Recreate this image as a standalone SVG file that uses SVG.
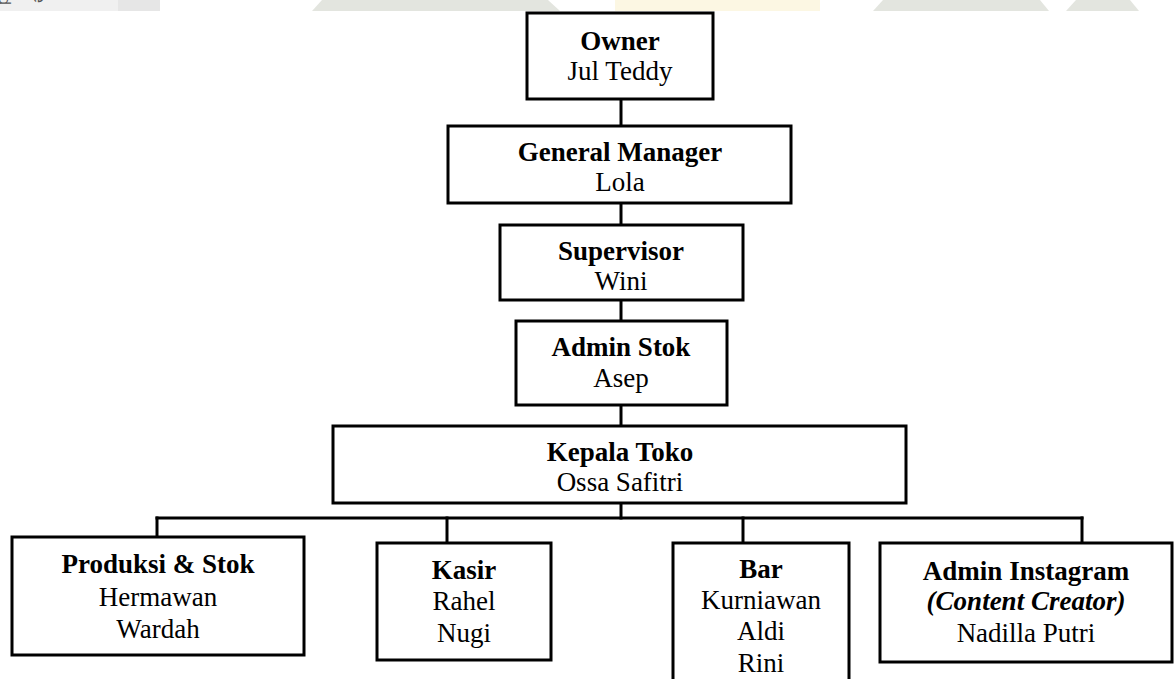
<svg xmlns="http://www.w3.org/2000/svg" width="1176" height="679" viewBox="0 0 1176 679">
<style>
.box{fill:#ffffff;stroke:#000000;stroke-width:3}
.ln{fill:none;stroke:#000000;stroke-width:3;stroke-linecap:square}
text{font-family:"Liberation Serif","Times New Roman",serif;font-size:27px;fill:#000000;text-anchor:middle}
.b{font-weight:bold}
.bi{font-weight:bold;font-style:italic}
.wm{font-family:"Liberation Sans",Arial,sans-serif;font-size:16px;fill:#555555;text-anchor:start}
</style>
<defs>
<clipPath id="strip"><rect x="0" y="0" width="1176" height="11"/></clipPath>
</defs>
<rect x="0" y="0" width="1176" height="679" fill="#ffffff"/>
<g id="watermark" clip-path="url(#strip)">
<rect x="0" y="0" width="118" height="11" fill="#f0f0f0"/>
<rect x="118" y="0" width="42" height="11" fill="#e6e6e6"/>
<polygon points="312,11 322,0 548,0 560,11" fill="#e3e5df"/>
<rect x="615" y="0" width="205" height="11" fill="#fcf7e3"/>
<polygon points="873,11 883,0 1040,0 1049,11" fill="#e3e5df"/>
<polygon points="1066,11 1076,0 1130,0 1139,11" fill="#e3e5df"/>
<text class="wm" transform="translate(-1,-4) rotate(90)">d</text>
<text class="wm" transform="translate(34,-6) rotate(90)">e</text>
</g>
<g id="connectors">
<line class="ln" x1="621" y1="99" x2="621" y2="126"/>
<line class="ln" x1="621" y1="203" x2="621" y2="225"/>
<line class="ln" x1="621" y1="300" x2="621" y2="321"/>
<line class="ln" x1="621" y1="405" x2="621" y2="426"/>
<line class="ln" x1="621" y1="503" x2="621" y2="518"/>
<line class="ln" x1="157" y1="518" x2="1082" y2="518"/>
<line class="ln" x1="157" y1="518" x2="157" y2="537"/>
<line class="ln" x1="447" y1="518" x2="447" y2="543"/>
<line class="ln" x1="743" y1="518" x2="743" y2="543"/>
<line class="ln" x1="1082" y1="518" x2="1082" y2="543"/>
</g>
<g id="owner">
<rect class="box" x="527" y="13" width="186" height="86"/>
<text class="b" x="620" y="50">Owner</text>
<text x="620" y="80">Jul Teddy</text>
</g>
<g id="general-manager">
<rect class="box" x="448" y="126" width="343" height="77"/>
<text class="b" x="620" y="161">General Manager</text>
<text x="620" y="191">Lola</text>
</g>
<g id="supervisor">
<rect class="box" x="500" y="225" width="243" height="75"/>
<text class="b" x="621" y="260">Supervisor</text>
<text x="621" y="290">Wini</text>
</g>
<g id="admin-stok">
<rect class="box" x="516" y="321" width="211" height="84"/>
<text class="b" x="621" y="356">Admin Stok</text>
<text x="621" y="387">Asep</text>
</g>
<g id="kepala-toko">
<rect class="box" x="333" y="426" width="573" height="77"/>
<text class="b" x="620" y="461">Kepala Toko</text>
<text x="620" y="491">Ossa Safitri</text>
</g>
<g id="produksi-stok">
<rect class="box" x="12" y="537" width="292" height="118"/>
<text class="b" x="158" y="573">Produksi &amp; Stok</text>
<text x="158" y="606">Hermawan</text>
<text x="158" y="638">Wardah</text>
</g>
<g id="kasir">
<rect class="box" x="377" y="543" width="174" height="117"/>
<text class="b" x="464" y="579">Kasir</text>
<text x="464" y="610">Rahel</text>
<text x="464" y="642">Nugi</text>
</g>
<g id="bar">
<rect class="box" x="673" y="543" width="176" height="150"/>
<text class="b" x="761" y="578">Bar</text>
<text x="761" y="609">Kurniawan</text>
<text x="761" y="640">Aldi</text>
<text x="761" y="672">Rini</text>
</g>
<g id="admin-instagram">
<rect class="box" x="880" y="543" width="292" height="119"/>
<text class="b" x="1026" y="580">Admin Instagram</text>
<text class="bi" x="1026" y="610">(Content Creator)</text>
<text x="1026" y="642">Nadilla Putri</text>
</g>
</svg>
